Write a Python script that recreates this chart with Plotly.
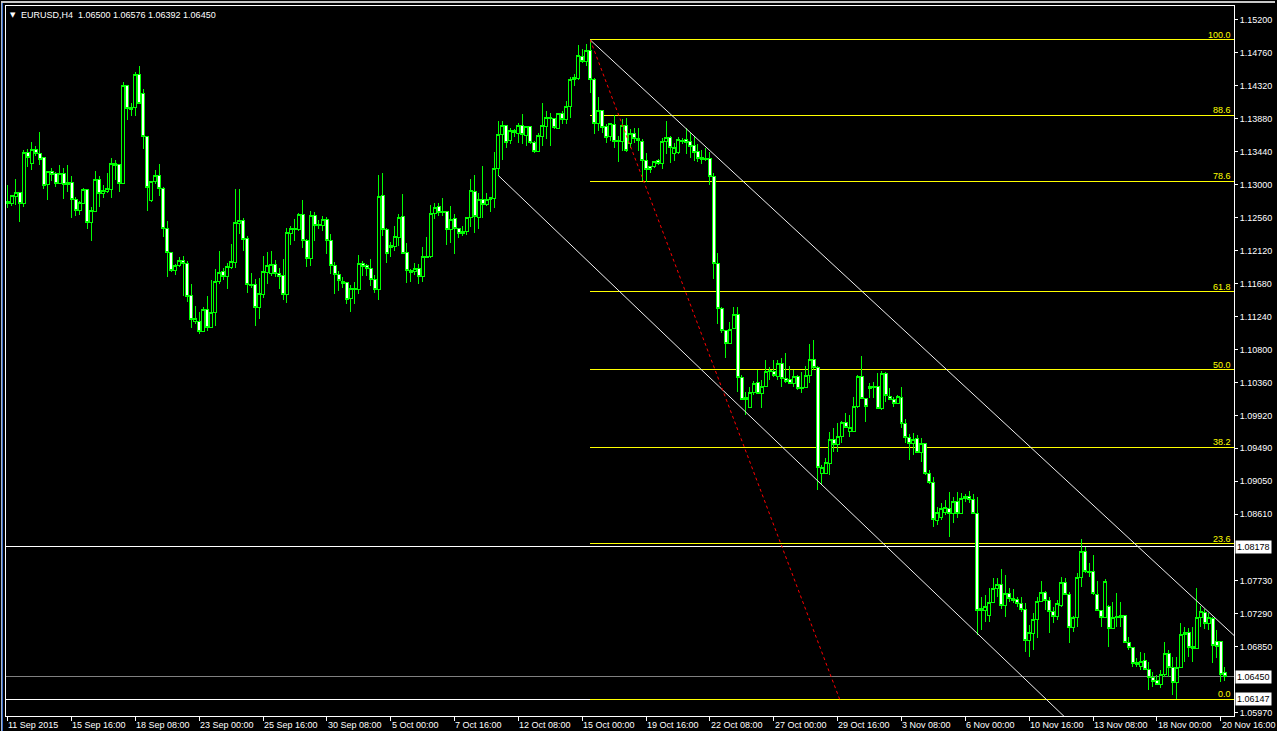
import plotly.graph_objects as go

# ---------------- data (EURUSD H4) ----------------
opens = [
1.12774,1.12747,1.12840,1.12893,1.12747,1.13426,1.13279,1.13465,1.13412,1.13359,
1.13000,1.13173,1.13146,1.13013,1.13146,1.13026,1.13026,1.12800,1.12654,1.12747,
1.12933,1.12494,1.12641,1.13066,1.12880,1.12907,1.12933,1.13279,1.13266,1.13013,
1.14317,1.14024,1.14024,1.14463,1.14210,1.13638,1.12787,1.13040,1.13120,1.12947,
1.12415,1.12095,1.11856,1.11922,1.11989,1.11949,1.11523,1.11178,1.11178,1.11045,
1.11338,1.11098,1.11298,1.11710,1.11843,1.11776,1.11896,1.11962,1.12481,1.12521,
1.12281,1.11670,1.11670,1.11364,1.11537,1.11829,1.11816,1.11936,1.11816,1.11790,
1.11537,1.12348,1.12415,1.12401,1.12601,1.12255,1.12016,1.12588,1.12468,1.12455,
1.12534,1.12255,1.11922,1.11803,1.11710,1.11696,1.11483,1.11603,1.11603,1.11949,
1.11922,1.11883,1.11736,1.11603,1.12853,1.12401,1.12162,1.12175,1.12295,1.12574,
1.12095,1.11856,1.11843,1.11883,1.11776,1.12042,1.12042,1.12614,1.12707,1.12641,
1.12641,1.12401,1.12548,1.12415,1.12375,1.12375,1.12561,1.12907,1.12561,1.12800,
1.12734,1.12800,1.12813,1.13213,1.13665,1.13784,1.13585,1.13718,1.13678,1.13784,
1.13652,1.13771,1.13559,1.13439,1.13638,1.13771,1.13891,1.13878,1.13745,1.13944,
1.13864,1.14037,1.14423,1.14410,1.14702,1.14636,1.14782,1.14396,1.13811,1.13984,
1.13771,1.13638,1.13798,1.13585,1.13572,1.13784,1.13545,1.13678,1.13585,1.13572,
1.13319,1.13239,1.13239,1.13319,1.13279,1.13572,1.13625,1.13412,1.13426,1.13572,
1.13598,1.13572,1.13519,1.13439,1.13359,1.13346,1.13346,1.13106,1.11949,1.11351,
1.11058,1.10885,1.11085,1.11271,1.10433,1.10167,1.10034,1.10233,1.10366,1.10220,
1.10313,1.10526,1.10513,1.10446,1.10619,1.10420,1.10406,1.10353,1.10446,1.10300,
1.10300,1.10460,1.10672,1.10566,1.09156,1.09156,1.09289,1.09608,1.09542,1.09648,
1.09834,1.09715,1.09715,1.10047,1.10446,1.10154,1.10287,1.10300,1.10313,1.10021,
1.10486,1.10180,1.10140,1.10087,1.10167,1.09821,1.09635,1.09555,1.09622,1.09435,
1.09555,1.09156,1.09036,1.08531,1.08571,1.08637,1.08691,1.08624,1.08784,1.08624,
1.08824,1.08850,1.08810,1.08624,1.07361,1.07334,1.07268,1.07441,1.07627,1.07680,
1.07400,1.07560,1.07494,1.07480,1.07427,1.07347,1.06935,1.07028,1.07214,1.07454,
1.07574,1.07467,1.07321,1.07254,1.07400,1.07707,1.07547,1.07108,1.07241,1.07773,
1.08119,1.07853,1.07853,1.07547,1.07334,1.07241,1.07387,1.07095,1.07254,1.07268,
1.07268,1.06909,1.06842,1.06643,1.06589,1.06669,1.06550,1.06443,1.06403,1.06337,
1.06483,1.06762,1.06576,1.06376,1.06576,1.07015,1.07041,1.06856,1.06829,1.07241,
1.07307,1.07161,1.07228,1.06922,1.06922,1.06500]

highs = [
1.13000,1.12867,1.13080,1.12907,1.13465,1.13479,1.13572,1.13519,1.13705,1.13359,
1.13186,1.13226,1.13173,1.13266,1.13226,1.13266,1.13120,1.12840,1.12787,1.12960,
1.12933,1.12707,1.13186,1.13120,1.13000,1.13160,1.13359,1.13332,1.13266,1.14370,
1.14330,1.14090,1.14503,1.14582,1.14277,1.13652,1.13053,1.13200,1.13279,1.12973,
1.12521,1.12109,1.11949,1.12042,1.12056,1.11989,1.11683,1.11391,1.11311,1.11377,
1.11523,1.11736,1.11883,1.12122,1.11896,1.11962,1.12215,1.12947,1.12947,1.12561,
1.12321,1.11829,1.11750,1.11763,1.12056,1.12109,1.12122,1.12002,1.11896,1.12016,
1.12428,1.12455,1.12548,1.12627,1.12800,1.12281,1.12654,1.12641,1.12534,1.12588,
1.12574,1.12348,1.11976,1.11856,1.11776,1.11710,1.11670,1.11710,1.12069,1.11989,
1.11949,1.12016,1.11803,1.13133,1.13160,1.12428,1.12242,1.12455,1.12614,1.12880,
1.12228,1.11883,1.11962,1.11949,1.12175,1.12308,1.12734,1.12760,1.12760,1.12827,
1.12641,1.12720,1.12614,1.12428,1.12455,1.12574,1.13080,1.13133,1.12893,1.13253,
1.12893,1.12840,1.13439,1.13851,1.13851,1.13798,1.13758,1.13745,1.13824,1.13944,
1.13784,1.13784,1.13585,1.13691,1.14090,1.13984,1.13957,1.13891,1.13957,1.13984,
1.14117,1.14436,1.14476,1.14862,1.14809,1.14875,1.14928,1.14423,1.14170,1.13997,
1.13811,1.13824,1.13931,1.13652,1.13878,1.13891,1.13745,1.13758,1.13758,1.13612,
1.13426,1.13253,1.13319,1.13346,1.13625,1.13851,1.13652,1.13559,1.13638,1.13625,
1.13758,1.13691,1.13652,1.13545,1.13465,1.13492,1.13439,1.13160,1.12095,1.11377,
1.11071,1.11178,1.11377,1.11377,1.10460,1.10233,1.10300,1.10380,1.10526,1.10393,
1.10659,1.10566,1.10659,1.10672,1.10686,1.10765,1.10592,1.10526,1.10460,1.10499,
1.10579,1.10885,1.10938,1.10592,1.09262,1.09356,1.09701,1.09755,1.09821,1.09848,
1.09954,1.09928,1.10167,1.10460,1.10712,1.10154,1.10353,1.10366,1.10486,1.10513,
1.10499,1.10287,1.10167,1.10194,1.10300,1.09874,1.09675,1.09688,1.09662,1.09622,
1.09555,1.09196,1.09103,1.08704,1.08757,1.08797,1.08903,1.08837,1.08903,1.08890,
1.08877,1.08917,1.08877,1.08837,1.07507,1.07534,1.07627,1.07760,1.07760,1.07880,
1.07800,1.07627,1.07614,1.07507,1.07507,1.07427,1.07134,1.07294,1.07507,1.07720,
1.07587,1.07507,1.07374,1.07467,1.07773,1.07760,1.07574,1.07254,1.07826,1.08278,
1.08172,1.07960,1.08066,1.07720,1.07334,1.07746,1.07400,1.07441,1.07560,1.07441,
1.07268,1.06975,1.06842,1.06696,1.06776,1.06762,1.06643,1.06510,1.06470,1.06536,
1.06909,1.06802,1.06709,1.06709,1.07161,1.07108,1.07095,1.07108,1.07627,1.07387,
1.07347,1.07294,1.07241,1.07068,1.06922,1.06576]

lows = [
1.12694,1.12720,1.12734,1.12508,1.12707,1.13239,1.13200,1.13386,1.13266,1.12947,
1.12800,1.13053,1.12973,1.13013,1.12813,1.12907,1.12561,1.12588,1.12601,1.12747,
1.12415,1.12255,1.12641,1.12707,1.12827,1.12893,1.12827,1.13066,1.12907,1.13013,
1.13864,1.13917,1.13917,1.14077,1.13479,1.12654,1.12774,1.13013,1.12853,1.12308,
1.11776,1.11843,1.11803,1.11909,1.11523,1.11444,1.11098,1.11151,1.11018,1.11045,
1.11045,1.11085,1.11124,1.11683,1.11736,1.11616,1.11883,1.11896,1.12348,1.12122,
1.11563,1.11630,1.11124,1.11218,1.11497,1.11683,1.11790,1.11776,1.11616,1.11470,
1.11431,1.12202,1.12255,1.12388,1.12162,1.11909,1.11922,1.12255,1.12415,1.12388,
1.12082,1.11816,1.11550,1.11590,1.11630,1.11417,1.11311,1.11417,1.11550,1.11790,
1.11790,1.11656,1.11563,1.11470,1.12321,1.11962,1.12042,1.12122,1.12188,1.12082,
1.11696,1.11710,1.11803,1.11683,1.11710,1.12029,1.12029,1.12548,1.12588,1.12588,
1.12202,1.12228,1.12082,1.12295,1.12321,1.12335,1.12441,1.12361,1.12415,1.12561,
1.12720,1.12641,1.12694,1.13120,1.13332,1.13492,1.13545,1.13638,1.13559,1.13545,
1.13519,1.13545,1.13426,1.13439,1.13519,1.13612,1.13519,1.13745,1.13745,1.13811,
1.13811,1.13891,1.14317,1.14396,1.14622,1.14582,1.14223,1.13678,1.13718,1.13691,
1.13559,1.13585,1.13492,1.13306,1.13452,1.13439,1.13492,1.13559,1.13452,1.13053,
1.13040,1.13160,1.13226,1.13266,1.13213,1.13412,1.13293,1.13319,1.13412,1.13545,
1.13412,1.13359,1.13319,1.13306,1.13279,1.13319,1.13000,1.11750,1.11151,1.11031,
1.10686,1.10885,1.11085,1.10233,1.10127,1.09928,1.10021,1.10194,1.10220,1.10021,
1.10313,1.10393,1.10433,1.10393,1.10300,1.10353,1.10353,1.10300,1.10260,1.10220,
1.10300,1.10353,1.10526,1.08930,1.08997,1.09143,1.09130,1.09435,1.09435,1.09555,
1.09755,1.09635,1.09715,1.10021,1.10154,1.09834,1.10154,1.10154,1.10021,1.09994,
1.10100,1.10127,1.10034,1.10074,1.09755,1.09555,1.09329,1.09396,1.09422,1.09302,
1.09130,1.09010,1.08438,1.08465,1.08531,1.08598,1.08305,1.08491,1.08558,1.08611,
1.08770,1.08757,1.08624,1.07002,1.07068,1.07174,1.07174,1.07441,1.07507,1.07347,
1.07241,1.07441,1.07427,1.07374,1.07307,1.06776,1.06709,1.06802,1.06962,1.07454,
1.07334,1.07028,1.07161,1.07201,1.07374,1.07547,1.06895,1.07041,1.07108,1.07640,
1.07826,1.07773,1.07534,1.07334,1.07108,1.07228,1.06842,1.07095,1.07108,1.07108,
1.06895,1.06802,1.06576,1.06576,1.06536,1.06536,1.06270,1.06310,1.06337,1.06297,
1.06443,1.06443,1.06204,1.06150,1.06563,1.06643,1.06709,1.06643,1.06829,1.07108,
1.07081,1.07068,1.06629,1.06696,1.06376,1.06392]

closes = [
1.12747,1.12853,1.12893,1.12747,1.13426,1.13359,1.13465,1.13412,1.13332,1.12987,
1.13173,1.13133,1.13013,1.13146,1.13000,1.13000,1.12800,1.12654,1.12760,1.12933,
1.12494,1.12654,1.13066,1.12880,1.12920,1.12947,1.13279,1.13253,1.13013,1.14317,
1.14011,1.13997,1.14463,1.14077,1.13638,1.12960,1.13040,1.13120,1.12947,1.12415,
1.12095,1.11856,1.11922,1.11989,1.11949,1.11510,1.11204,1.11218,1.11045,1.11338,
1.11098,1.11298,1.11710,1.11829,1.11776,1.11909,1.11976,1.12494,1.12521,1.12268,
1.11670,1.11656,1.11364,1.11550,1.11843,1.11922,1.11936,1.11816,1.11776,1.11537,
1.12361,1.12415,1.12401,1.12601,1.12255,1.12016,1.12588,1.12455,1.12455,1.12534,
1.12255,1.11922,1.11803,1.11723,1.11683,1.11470,1.11616,1.11616,1.11949,1.11909,
1.11883,1.11736,1.11603,1.12840,1.12401,1.12082,1.12188,1.12308,1.12561,1.12082,
1.11856,1.11829,1.11883,1.11776,1.12042,1.12029,1.12614,1.12694,1.12627,1.12627,
1.12401,1.12534,1.12415,1.12348,1.12348,1.12561,1.12920,1.12574,1.12800,1.12734,
1.12800,1.12827,1.13213,1.13665,1.13784,1.13559,1.13718,1.13691,1.13784,1.13665,
1.13771,1.13559,1.13439,1.13652,1.13784,1.13891,1.13878,1.13758,1.13944,1.13864,
1.14037,1.14396,1.14396,1.14716,1.14636,1.14782,1.14396,1.13811,1.13984,1.13758,
1.13625,1.13811,1.13572,1.13572,1.13784,1.13452,1.13678,1.13612,1.13612,1.13319,
1.13200,1.13200,1.13306,1.13279,1.13572,1.13625,1.13492,1.13492,1.13598,1.13585,
1.13559,1.13505,1.13426,1.13346,1.13332,1.13332,1.13106,1.11949,1.11351,1.11058,
1.10885,1.11071,1.11271,1.10433,1.10140,1.10140,1.10233,1.10353,1.10220,1.10313,
1.10513,1.10513,1.10460,1.10619,1.10420,1.10380,1.10353,1.10446,1.10287,1.10287,
1.10460,1.10672,1.10566,1.09236,1.09236,1.09302,1.09608,1.09542,1.09648,1.09834,
1.09768,1.09768,1.10047,1.10446,1.10154,1.10047,1.10313,1.10313,1.10021,1.10486,
1.10194,1.10140,1.10087,1.10180,1.09821,1.09635,1.09555,1.09608,1.09435,1.09555,
1.09156,1.09036,1.08544,1.08637,1.08691,1.08704,1.08624,1.08784,1.08624,1.08824,
1.08850,1.08810,1.08624,1.07334,1.07334,1.07387,1.07441,1.07627,1.07680,1.07400,
1.07560,1.07494,1.07467,1.07427,1.07347,1.06935,1.07041,1.07214,1.07454,1.07574,
1.07467,1.07321,1.07254,1.07427,1.07707,1.07547,1.07108,1.07241,1.07773,1.08119,
1.07853,1.07839,1.07560,1.07334,1.07241,1.07720,1.07095,1.07241,1.07241,1.07241,
1.06909,1.06842,1.06629,1.06616,1.06656,1.06550,1.06443,1.06390,1.06337,1.06483,
1.06762,1.06576,1.06376,1.06576,1.07015,1.07041,1.06842,1.06829,1.07241,1.07321,
1.07161,1.07241,1.06869,1.06856,1.06483,1.06450]

assert len(opens) == len(highs) == len(lows) == len(closes) == 306

# objects drawn on the chart
fib_high = 1.14928
fib_low = 1.06147
fib_start_bar = 146
fib_levels = [100.0, 88.6, 78.6, 61.8, 50.0, 38.2, 23.6, 0.0]
fib_trend_bars = [146, 208.5]
fib_trend_prices = [1.14928, 1.06147]
upper_channel_bars = [146, 308]
upper_channel_prices = [1.14928, 1.06964]
lower_channel_bars = [123, 280]
lower_channel_prices = [1.13120, 1.05144]
hlines_white = [1.08178, 1.06147]
bid_price = 1.06450

price_ticks = [1.15200, 1.14760, 1.14320, 1.13880, 1.13440, 1.13000, 1.12560,
               1.12120, 1.11680, 1.11240, 1.10800, 1.10360, 1.09920, 1.09490,
               1.09050, 1.08610, 1.07730, 1.07290, 1.06850, 1.05970]
highlight_prices = [1.08178, 1.06450, 1.06147]

time_tick_bars = [0, 16, 32, 48, 64, 80, 96, 112, 128, 144, 160, 176, 192, 208,
                  224, 240, 256, 272, 288, 304]
time_tick_labels = ["11 Sep 2015", "15 Sep 16:00", "18 Sep 08:00", "23 Sep 00:00",
                    "25 Sep 16:00", "30 Sep 08:00", "5 Oct 00:00", "7 Oct 16:00",
                    "12 Oct 08:00", "15 Oct 00:00", "19 Oct 16:00", "22 Oct 08:00",
                    "27 Oct 00:00", "29 Oct 16:00", "3 Nov 08:00", "6 Nov 00:00",
                    "10 Nov 16:00", "13 Nov 08:00", "18 Nov 00:00", "20 Nov 16:00"]

title_text = "EURUSD,H4  1.06500 1.06576 1.06392 1.06450"

# ---------------- figure ----------------
FONT = "Liberation Sans, Arial, sans-serif"
LIME = "#00ff00"
W, H = 1277, 731
ML, MR, MT, MB = 5, 41, 5, 15
PW = W - ML - MR
PH = H - MT - MB

bars = list(range(len(closes)))
x_range = [-0.42, 307.33]
y_range = [1.05924, 1.15380]

fig = go.Figure()

# channel lines
fig.add_trace(go.Scatter(x=upper_channel_bars, y=upper_channel_prices, mode="lines",
                         line=dict(color="#f0f0f0", width=1), hoverinfo="skip"))
fig.add_trace(go.Scatter(x=lower_channel_bars, y=lower_channel_prices, mode="lines",
                         line=dict(color="#f0f0f0", width=1), hoverinfo="skip"))
# fibo trend line
fig.add_trace(go.Scatter(x=fib_trend_bars, y=fib_trend_prices, mode="lines",
                         line=dict(color="#ff0000", width=1, dash="dot"), hoverinfo="skip"))

fig.add_trace(go.Candlestick(
    x=bars, open=opens, high=highs, low=lows, close=closes,
    increasing=dict(line=dict(color=LIME, width=1), fillcolor="#000000"),
    decreasing=dict(line=dict(color=LIME, width=1), fillcolor="#ffffff"),
    whiskerwidth=0, hoverinfo="skip"))

shapes = []
annotations = []

# fibonacci levels
for lv in fib_levels:
    p = fib_low + lv / 100.0 * (fib_high - fib_low)
    shapes.append(dict(type="line", xref="x", yref="y", x0=fib_start_bar, x1=x_range[1],
                       y0=p, y1=p, line=dict(color="#ffff00", width=1), layer="below"))
    annotations.append(dict(xref="paper", yref="y", x=1, y=p, xanchor="right", yanchor="bottom",
                            xshift=-1, yshift=-2, text=f"{lv:.1f}", showarrow=False,
                            font=dict(family=FONT, size=9, color="#ffff00")))

# horizontal lines
for p in hlines_white:
    shapes.append(dict(type="line", xref="paper", yref="y", x0=0, x1=1, y0=p, y1=p,
                       line=dict(color="#ffffff", width=1), layer="below"))
shapes.append(dict(type="line", xref="paper", yref="y", x0=0, x1=1, y0=bid_price, y1=bid_price,
                   line=dict(color="#808080", width=1), layer="below"))

# window chrome
def px_x(px):
    return (px - ML) / PW

def px_y(py):
    return 1 - (py - MT) / PH

shapes.append(dict(type="rect", xref="paper", yref="paper", x0=px_x(0), x1=px_x(W),
                   y0=px_y(2), y1=px_y(0), fillcolor="#c8c8c8", line=dict(width=0), layer="above"))
shapes.append(dict(type="rect", xref="paper", yref="paper", x0=px_x(0), x1=px_x(1.2),
                   y0=px_y(H), y1=px_y(2), fillcolor="#a8b4c8", line=dict(width=0), layer="above"))
shapes.append(dict(type="rect", xref="paper", yref="paper", x0=px_x(1.2), x1=px_x(2.4),
                   y0=px_y(H), y1=px_y(2), fillcolor="#3a6cc8", line=dict(width=0), layer="above"))

# highlighted price labels on the scale
for p in highlight_prices:
    annotations.append(dict(xref="paper", yref="y", x=1, y=p, xanchor="left", yanchor="middle",
                            xshift=1, text=f"{p:.5f}", showarrow=False, bgcolor="#ffffff",
                            borderpad=1, font=dict(family=FONT, size=9, color="#000000")))

# time labels (left-aligned at their tick)
for b, lab in zip(time_tick_bars, time_tick_labels):
    annotations.append(dict(xref="x", yref="paper", x=b - 0.3, y=0, xanchor="left", yanchor="top",
                            yshift=-2, text=lab, showarrow=False,
                            font=dict(family=FONT, size=9, color="#ffffff")))

# title
annotations.append(dict(xref="paper", yref="paper", x=0, y=1, xanchor="left", yanchor="top",
                        xshift=2, yshift=-3, text="▼", showarrow=False,
                        font=dict(family="DejaVu Sans, sans-serif", size=7, color="#ffffff")))
annotations.append(dict(xref="paper", yref="paper", x=0, y=1, xanchor="left", yanchor="top",
                        xshift=13, yshift=-2, text=title_text, showarrow=False,
                        font=dict(family=FONT, size=9, color="#ffffff")))

fig.update_layout(
    width=W, height=H,
    margin=dict(l=ML, r=MR, t=MT, b=MB, pad=0),
    paper_bgcolor="#000000", plot_bgcolor="#000000",
    showlegend=False,
    boxgap=0.25, boxgroupgap=0,
    shapes=shapes, annotations=annotations,
    hovermode=False,
    xaxis=dict(range=x_range, showgrid=False, zeroline=False, showline=True, linecolor="#ffffff",
               linewidth=1, mirror=True, tickvals=time_tick_bars, showticklabels=False,
               ticks="outside", ticklen=4, tickcolor="#ffffff", tickwidth=1,
               rangeslider=dict(visible=False), fixedrange=True),
    yaxis=dict(range=y_range, side="right", showgrid=False, zeroline=False, showline=True,
               linecolor="#ffffff", linewidth=1, mirror=True, tickvals=price_ticks,
               ticktext=[f"{v:.5f}" for v in price_ticks], ticks="outside", ticklen=3,
               tickcolor="#ffffff", tickwidth=1,
               tickfont=dict(family=FONT, size=9, color="#ffffff"), fixedrange=True),
)

fig.write_html(
    "out.html",
    config={"displayModeBar": False},
    post_script="document.body.style.margin='0';document.body.style.padding='0';"
                "document.body.style.background='#000000';document.body.style.overflow='hidden';"
                "var st=document.createElement('style');"
                "st.textContent='.shapelayer path{shape-rendering:crispEdges}"
                " .boxlayer path{shape-rendering:crispEdges}';"
                "document.head.appendChild(st);",
)
